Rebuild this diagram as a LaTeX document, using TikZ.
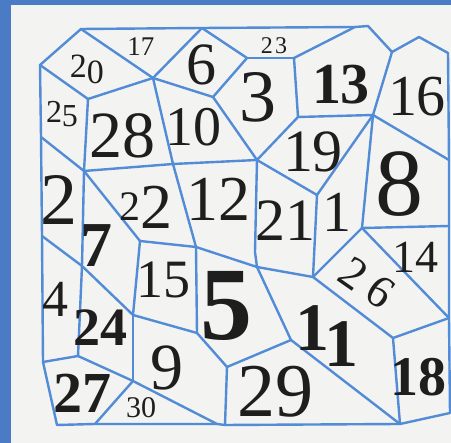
\documentclass[tikz,border=0pt]{standalone}
\usepackage{fontspec}
\setmainfont{Liberation Serif}
\usepackage{xcolor}
\definecolor{stampblue}{RGB}{74,124,198}
\definecolor{lineblue}{RGB}{82,140,214}
\definecolor{paper}{RGB}{243,243,241}
\definecolor{ink}{RGB}{30,30,30}
\usepackage{tikz}

\begin{document}
\begin{tikzpicture}[x=1pt, y=-1pt,
  edge/.style={draw=lineblue, line width=2.4pt, line join=round, line cap=round},
  num/.style={font=\fontsize{#1}{#1}\selectfont, text=ink, inner sep=0pt},
  bnum/.style={font=\fontsize{#1}{#1}\selectfont\bfseries, text=ink, inner sep=0pt}
]
\useasboundingbox (0,0) rectangle (451,443);
% paper and stamp edge
\fill[stampblue] (0,0) rectangle (451,443);
\fill[paper] (11,5) rectangle (451,443);

% outer corners
\coordinate (o1) at (40,65);
\coordinate (o2) at (81,29);
\coordinate (t6) at (202,28);
\coordinate (t13) at (355,27);
\coordinate (o3) at (368,26);
\coordinate (o4) at (392,52);
\coordinate (o5) at (419,37);
\coordinate (o6) at (448,53);
\coordinate (r8) at (449,160);
\coordinate (r14) at (449,226);
\coordinate (r18) at (449,318);
\coordinate (o7) at (450,413);
\coordinate (b18) at (400,424);
\coordinate (b29) at (225,425);
\coordinate (b30r) at (217,424);
\coordinate (b30l) at (95,424);
\coordinate (o8) at (57,425);
\coordinate (o9) at (43,362);
\coordinate (l2) at (42,236);
\coordinate (l25) at (41,137);

% inner corners
\coordinate (v20) at (88,99);
\coordinate (c17) at (153,78);
\coordinate (v6) at (213,97);
\coordinate (v23a) at (247,58);
\coordinate (v23b) at (294,58);
\coordinate (v13) at (298,117);
\coordinate (v16) at (373,115);
\coordinate (c21) at (257,160);
\coordinate (v1) at (317,195);
\coordinate (v8) at (362,228);
\coordinate (v26) at (313,277);
\coordinate (v18) at (393,338);
\coordinate (v28) at (173,164);
\coordinate (v22) at (84,171);
\coordinate (v15) at (140,241);
\coordinate (v15b) at (196,247);
\coordinate (v5) at (257,267);
\coordinate (v21) at (255,252);
\coordinate (v24) at (82,266);
\coordinate (v9) at (133,315);
\coordinate (v9b) at (197,333);
\coordinate (v29) at (227,367);
\coordinate (v11) at (291,340);
\coordinate (v27) at (78,356);
\coordinate (v30) at (133,381);

% border
\draw[edge] (o1) -- (o2) -- (t6) -- (t13) -- (o3) -- (o4) -- (o5) -- (o6) -- (r8)
  -- (r14) -- (r18) -- (o7) -- (b18) -- (b29) -- (b30r) -- (b30l) -- (o8) -- (o9)
  -- (l2) -- (l25) -- cycle;

% walls between the pieces
\foreach \a/\b in {o2/c17, t6/c17, t6/v23a, v23a/v23b, v23b/t13, v23a/v6, c17/v6,
  v6/c21, v23b/v13, v13/c21, v13/v16, o4/v16, v16/r8, v16/v1, c21/v1, v16/v8,
  v8/r14, v8/r18, v8/v26, v1/v26, v26/v18, r18/v18, v18/b18, v5/v26, c21/v21,
  v21/v5, v5/v11, v11/b18, v11/v29, v29/b29, v9b/v29, v15b/v9b, v15b/v5,
  v28/v15b, c17/v28, v28/c21, v22/v28, v20/c17, o1/v20, v20/v22, l25/v22,
  v22/v15, v15/v15b, v15/v9, v22/v24, l2/v24, v24/v9, v9/v9b, v24/v27, o9/v27,
  v27/v30, v9/v30, v30/b30l, v30/b30r}
  \draw[edge] (\a) -- (\b);

% top row
\node[num=34] (n20) at (87,69) {2\raisebox{-6pt}{0}};
\node[num=27] (n17) at (141,47) {17};
\node[num=60] (n6) at (201,65) {6};
\node[num=24] (n23) at (274,46) {2\kern.1em3};
\node[num=74] (n3) at (258,97) {3};
\node[bnum=58] (n13) at (341,85) {13};
\node[num=58] (n16) at (417,97) {16};

% second band
\node[num=32] (n25) at (62,114) {2\raisebox{-4pt}{5}};
\node[num=66] (n28) at (122,136) {28};
\node[num=56] (n10) at (193,127) {10};
\node[num=60] (n19) at (313,152) {19};
\node[num=96] (n8) at (399,184) {8};

% middle
\node[num=74] (n2) at (59,200) {2};
\node[num=64] (n22) at (146,207) {\raisebox{8pt}{\fontsize{42}{42}\selectfont 2}2};
\node[num=64] (n12) at (218,199) {12};
\node[num=60] (n21) at (285,221) {21};
\node[num=58] (n1) at (337,212) {1};
\node[bnum=64] (n7) at (97,246) {7};
\node[num=46] (n14) at (415,257) {14};
\node[num=54] (n15) at (163,280) {15};
\node[bnum=104] (n5) at (226,306) {5};
\node[num=46, rotate=-35] (n26) at (367,283) {2\kern.2em6};
\node[num=52] (n4) at (55,299) {4};

% lower band
\node[bnum=54] (n24) at (101,328) {24};
\node[num=66] (n9) at (167,368) {9};
\node[bnum=68] (n11) at (327,336) {1\kern-.06em\raisebox{-16pt}{1}};
\node[bnum=56] (n18) at (418,377) {18};
\node[bnum=58] (n27) at (82,393) {27};
\node[num=30] (n30) at (141,408) {30};
\node[num=76] (n29) at (275,392) {29};
\end{tikzpicture}
\end{document}
